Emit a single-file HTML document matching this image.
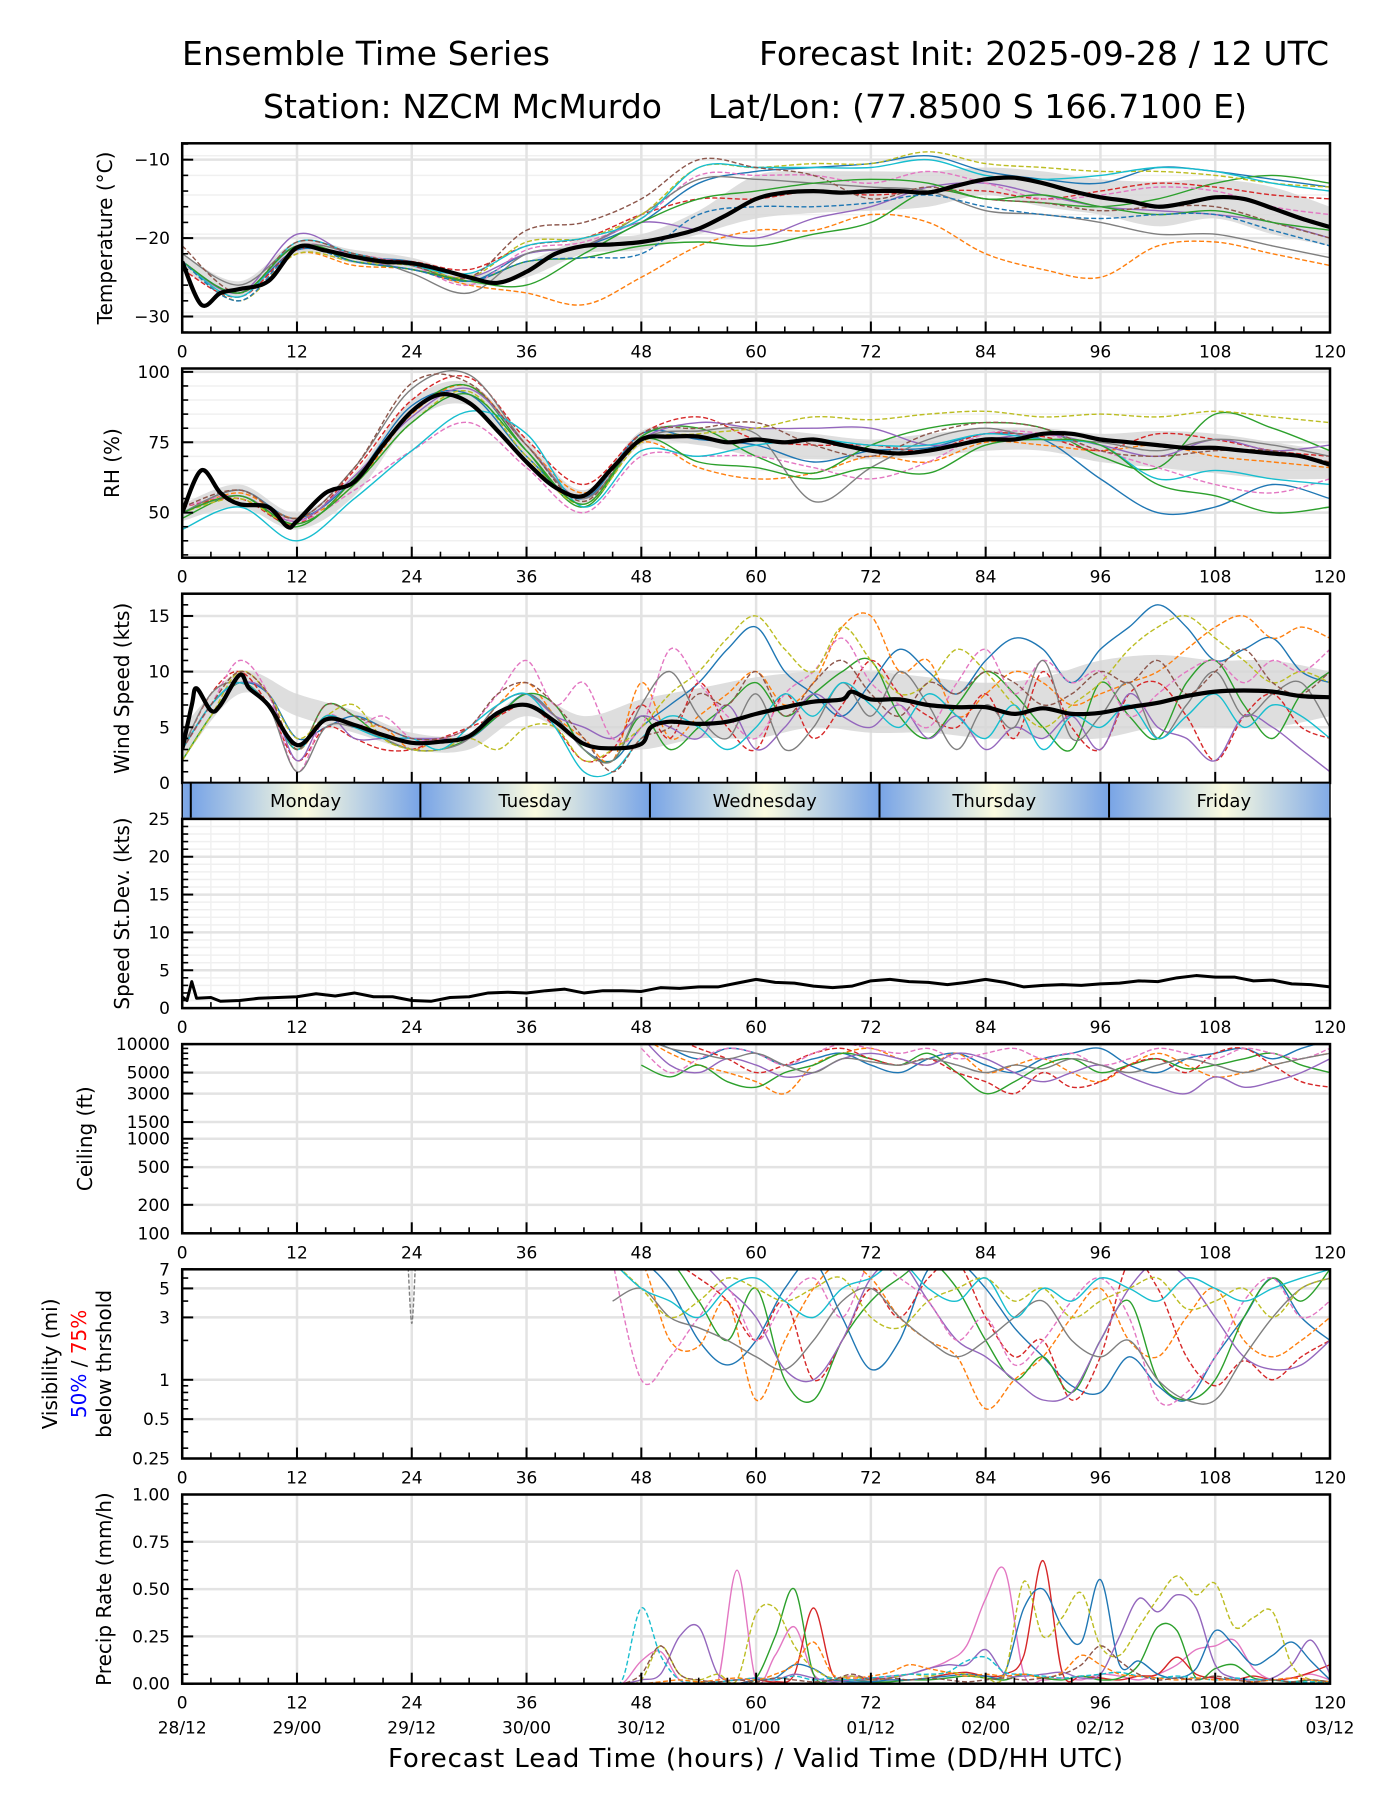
<!DOCTYPE html>
<html><head><meta charset="utf-8"><style>
html,body{margin:0;padding:0;background:#fff}
svg{display:block;font-family:"DejaVu Sans","Liberation Sans",sans-serif}
</style></head><body>
<svg id="fig" width="1400" height="1800" viewBox="0 0 1400 1800" xmlns="http://www.w3.org/2000/svg">
<text x="182" y="65" font-size="33" textLength="368">Ensemble Time Series</text>
<text x="759" y="65" font-size="33" textLength="570">Forecast Init: 2025-09-28 / 12 UTC</text>
<text x="263" y="118" font-size="33" textLength="399">Station: NZCM McMurdo</text>
<text x="708" y="118" font-size="33" textLength="539">Lat/Lon: (77.8500 S 166.7100 E)</text>
<text x="388" y="1767" font-size="26" textLength="735">Forecast Lead Time (hours) / Valid Time (DD/HH UTC)</text>
</svg>
<script>
// ---------- data ----------
const H6=[0,6,12,18,24,30,36,42,48,54,60,66,72,78,84,90,96,102,108,114,120];
const tempMeanH=[0,2,4,6,9,12,15,18,21,24,27,30,33,36,39,42,45,48,51,54,57,60,63,66,69,72,75,78,81,84,87,90,93,96,99,102,105,108,111,114,117,120];
const tempMean=[-23,-28.5,-27,-26.5,-25.5,-21.2,-21.6,-22.4,-23,-23.2,-24,-25,-25.7,-24.3,-22,-21,-20.8,-20.5,-19.8,-18.8,-17,-15,-14.2,-14,-14.2,-14,-14,-14.2,-13.3,-12.5,-12.3,-13,-14,-14.8,-15.3,-16,-15.5,-14.8,-15,-16.2,-17.5,-18.6];
const tempHi=[-22,-25.5,-20.5,-21.5,-22.5,-24.5,-23,-20,-19.5,-16.5,-12,-11.5,-11.5,-11.5,-11,-11.5,-12.5,-12.8,-12.5,-13.5,-16];
const tempLo=[-24,-27.5,-22,-23.2,-24,-26,-25,-22,-21.5,-19.5,-17.5,-16.8,-16.5,-16,-14.5,-16,-17,-18.5,-17.5,-19.5,-21];
const tempMembers=[
[-23,-27,-21.5,-22.5,-23,-25.5,-22,-21,-18,-13,-11.5,-11,-10.5,-9.5,-11.5,-12.5,-13,-11,-11.5,-12.5,-13.5],
[-23,-28,-22,-23.5,-24,-26,-27,-28.5,-25,-21,-19,-19,-17,-18,-22,-24,-25,-21,-20.5,-22,-23.5],
[-23,-27,-21,-22.5,-23.5,-25.5,-23,-22.5,-21,-20.5,-21,-19.5,-18,-14,-15,-15.5,-16,-15,-13,-12,-13],
[-24,-27.5,-21.5,-22.5,-23,-24,-21,-20,-17,-15,-15,-14,-14.5,-14,-14,-15,-14,-13,-13.5,-14.5,-15],
[-23,-27,-19.5,-22.5,-24,-25,-22,-21,-18,-19,-20,-17.5,-16,-13.5,-13,-14.5,-16,-16.5,-17,-18,-20],
[-23,-27,-21,-22,-23.5,-26,-21.5,-20.5,-17.5,-12,-12,-12,-13,-11.5,-13,-15,-14.5,-13.5,-14,-16,-17],
[-22,-26,-21,-22,-24.5,-27,-22,-21,-17,-12.5,-12.5,-13,-13.5,-14,-16.5,-17,-18,-19.5,-19.5,-21,-22.5],
[-23,-28,-22,-23,-23.5,-25,-20.5,-20,-17,-11,-11,-10.5,-10.5,-9,-10.5,-11,-11.5,-11.5,-12,-13,-13.5],
[-23,-27.5,-20.5,-22,-23.5,-24.5,-21,-20,-17.5,-11,-11,-11,-11,-10,-12,-12.5,-12,-11,-11.5,-13,-14],
[-21,-27,-20.5,-22,-23.5,-25,-19,-18,-15,-10,-11,-12,-15,-13.5,-15,-15.5,-16.5,-16,-16,-18,-20],
[-23,-27,-21,-23,-24,-25.5,-26,-22,-18,-15,-14,-13,-12.5,-13,-15,-14.5,-16,-17,-16.5,-18,-19],
[-23,-28,-21.5,-23,-24,-25.5,-23,-22.5,-22,-17,-16,-16,-15.5,-14.5,-16,-17,-17.5,-17,-17,-19,-21]];
const rhMeanH=[0,2,4,6,9,11,12,15,18,21,24,27,30,33,36,39,42,45,48,51,54,57,60,63,66,69,72,75,78,81,84,87,90,93,96,99,102,105,108,111,114,117,120];
const rhMean=[50,65,57,53,52,45,47,57,61,74,86,92,89,79,68,59,56,66,76,77,77,75,76,75,76,74,72,71,72,74,76,76,78,78,76,75,74,73,73,72,71,70,67];
const rhHi=[53,60,50,64,90,96,76,58,79,80,80,78,76,78,80,80,78,79,78,75,72];
const rhLo=[47,52,44,56,82,88,68,53,74,74,70,69,69,70,72,72,68,66,64,62,62];
const rhMembers=[
[50,58,48,62,88,92,70,55,78,76,74,68,72,73,78,76,62,50,52,60,55],
[50,57,48,60,85,95,74,57,75,66,62,64,70,68,75,74,72,74,70,68,66],
[48,56,45,62,86,95,72,52,77,80,70,64,74,80,82,80,70,66,85,80,72],
[52,55,46,65,90,98,76,60,78,84,76,74,74,72,78,77,72,78,76,72,70],
[50,56,47,63,84,94,74,55,76,82,80,80,80,74,76,78,74,70,76,72,74],
[52,56,47,58,72,82,66,50,70,70,70,66,62,68,78,78,72,66,60,57,62],
[50,58,48,66,94,99,74,55,76,79,78,54,66,76,80,76,75,72,76,74,70],
[50,55,46,60,82,93,70,53,75,78,80,84,83,85,86,84,85,84,86,84,82],
[44,52,40,55,72,86,78,52,72,70,74,76,74,74,78,76,74,62,65,62,60],
[52,58,48,66,96,96,74,54,78,80,82,74,70,78,82,80,72,70,72,72,68],
[50,56,46,60,82,92,72,53,76,68,66,62,66,64,74,76,74,60,56,50,52]];
const windMeanH=[0,1,1.5,3,4,6,7,9,12,15,18,21,24,27,30,33,36,39,42,45,48,49,51,54,57,60,63,66,69,70,72,75,78,81,84,87,90,93,96,99,102,105,108,111,114,117,120];
const windMean=[3,7,8.5,6.5,7,9.7,8.5,7,3.4,5.7,5.2,4.3,3.6,3.7,4.2,6.3,7,5.5,3.5,3.1,3.5,5,5.5,5.3,5.5,6.2,6.8,7.3,7.5,8.2,7.5,7.5,7,6.8,6.8,6.2,6.7,6.2,6.3,6.8,7.2,7.8,8.2,8.3,8.2,7.8,7.7];
const windHi=[5,10,8,6.5,4.5,4.5,8,6,7.5,8.5,9.5,10,10,9.5,9,9.5,11,11.5,11,11,10];
const windLo=[2,8,6,4.5,3,3,6,3.5,3,4,4,5,4.5,4.5,4,4,4,5,5,5,6];
const H3=[0,3,6,9,12,15,18,21,24,27,30,33,36,39,42,45,48,51,54,57,60,63,66,69,72,75,78,81,84,87,90,93,96,99,102,105,108,111,114,117,120];
const windMembers=[
[3,7,9,8,4,5,6,5,4,4,4,6,8,6,3,2,5,7,9,12,14,10,8,6,9,12,10,8,11,13,12,9,12,14,16,14,11,12,13,10,9],
[3,7,10,8,3,6,5,5,3,4,4,7,9,6,4,2,9,4,6,8,10,7,9,14,15,10,11,6,8,10,9,7,8,9,10,12,14,15,13,14,13],
[2,6,9,7,3,7,6,4,3,3,4,6,8,7,3,2,6,3,5,7,9,6,8,10,11,6,4,7,10,8,5,3,9,6,4,9,11,7,4,8,10],
[3,8,10,7,2,5,4,3,3,4,5,6,7,5,2,3,7,4,9,5,3,8,4,7,11,8,6,5,8,4,10,5,3,8,9,6,2,6,8,5,4],
[3,7,9,8,2,6,4,4,4,4,4,7,8,6,5,4,6,5,4,7,3,5,8,6,5,7,4,6,3,5,4,6,3,8,5,4,2,6,5,3,1],
[3,7,11,8,1,6,5,6,4,4,5,8,11,7,9,4,5,12,9,6,4,8,10,13,9,7,5,9,12,8,11,9,10,6,8,10,11,9,11,10,12],
[3,8,9,7,1,5,5,4,3,3,4,7,8,6,3,2,7,10,6,4,8,3,5,9,6,10,7,3,7,5,11,4,6,9,4,7,10,6,8,9,5],
[2,6,10,8,4,6,7,4,3,3,4,3,5,5,2,3,5,8,10,13,15,12,10,14,11,8,9,12,10,7,5,7,9,12,14,15,13,11,9,10,9],
[3,7,9,7,3,6,5,4,4,3,5,7,8,5,1,1,4,6,5,3,5,8,6,9,7,5,8,6,4,7,3,6,5,7,4,6,8,5,7,6,4],
[3,7,10,8,3,7,6,5,4,4,5,8,9,7,4,1,4,5,8,7,10,6,9,11,8,6,9,8,10,9,7,8,10,9,11,8,10,12,9,8,10]];
const sdH=[0,0.5,1,1.5,3,4,6,8,10,12,14,16,18,20,22,24,26,28,30,32,34,36,38,40,42,44,46,48,50,52,54,56,58,60,62,64,66,68,70,72,74,76,78,80,82,84,86,88,90,92,94,96,98,100,102,104,106,108,110,112,114,116,118,120];
const sdVals=[1.5,1,3.5,1.3,1.4,0.9,1,1.3,1.4,1.5,1.9,1.6,2,1.5,1.5,1,0.9,1.4,1.5,2,2.1,2,2.3,2.5,2,2.3,2.3,2.2,2.7,2.6,2.8,2.8,3.3,3.8,3.4,3.3,2.9,2.7,2.9,3.6,3.8,3.5,3.4,3.1,3.4,3.8,3.4,2.8,3,3.1,3,3.2,3.3,3.6,3.5,4,4.3,4.1,4.1,3.6,3.7,3.2,3.1,2.8];
const ceilH=[48,51,54,57,60,63,66,69,72,75,78,81,84,87,90,93,96,99,102,105,108,111,114,117,120];
const ceilMembers=[
[12000,9000,7000,9000,8000,6000,7000,8000,6000,5000,7000,8000,6000,5000,7000,8000,9000,6000,5000,7000,8000,9000,7000,9000,11000],
[12000,8000,6000,5000,4000,3000,6000,8000,9000,7000,6000,8000,5000,6000,7000,5000,4000,6000,8000,6000,4500,5000,6000,7000,8000],
[6000,4500,6000,4000,3500,5000,6000,8000,7000,6000,8000,5000,3000,4000,6000,7000,5000,6000,7000,5500,6000,7000,8000,6000,5000],
[12000,12000,9000,7000,5000,6000,8000,9000,7000,6000,7000,5000,4000,3000,5000,3500,4000,6000,7000,5000,8000,9000,6000,4000,3500],
[12000,6000,5000,7000,6000,4500,5000,7000,8000,7000,6000,8000,7000,5000,4000,5000,6000,4500,3500,3000,4500,3500,4000,5000,7000],
[9000,5000,7000,9000,8000,6000,8000,10000,9000,8000,9000,7000,8000,9000,7000,8000,6000,7000,9000,8000,7000,9000,8000,7000,9000],
[12000,9000,8000,7000,8000,6000,5000,7000,6500,6000,7000,6000,5000,6000,5500,7000,6000,5000,6000,7000,6000,5000,6000,7000,8000]];
const visH=[45,48,51,54,57,60,63,66,69,72,75,78,81,84,87,90,93,96,99,102,105,108,111,114,117,120];
const visMembers=[
[8,8,5,2,1.3,2,5,8,3,1.2,2,7,8,5,2.5,1.5,0.9,0.8,1.5,0.9,0.7,1.5,3,6,3,2],
[8,8,2,1.8,4,0.7,2,5,8,6,3,2,1.5,0.6,1,1.5,3,5,2,1.5,3,5,2,1.5,2,3],
[8,8,8,4,2,5,1,0.7,2,4,6,8,5,2,1,1.5,0.8,2,4,1,0.7,1,3,6,4,7],
[8,8,8,6,4,2,4,1,2,5,3,6,8,3,1.5,2,0.7,1.5,8,5,1.5,0.9,1.4,1,1.5,2],
[8,8,8,8,5,3,1.2,1,2,6,8,4,2,1.5,1,0.7,0.8,2,5,8,6,3,1.5,1.2,1.3,2],
[8,1,1.5,3,5,2,4,6,3,8,6,4,2,3,1.3,2,4,6,3,0.7,0.8,1.5,4,6,3,4],
[4,5,3,2.5,2,1.5,1.2,2,4,5,3,2,1.5,2,3,4,2,1.5,2,1,0.7,0.7,1.5,3,5,6],
[8,5,3,4,6,5,4,5,6,3,2.5,4,5,6,4,5,3,4,5,6,3.5,4,5,3,5,6],
[8,5,4,3,5,6,4,3,5,6,8,5,4,6,3,5,4,6,5,4,6,5,4,5,6,7]];
const visSpikeH=[23.6,24,24.4];
const visSpike=[8,2.7,8];
const precH=[44,46,48,50,52,54,56,58,60,62,64,66,68,70,72,74,76,78,80,82,84,86,88,90,92,94,96,98,100,102,104,106,108,110,112,114,116,118,120];
const precMembers=[
[0,0,0.12,0.17,0.02,0,0.01,0.6,0.02,0.15,0.3,0.05,0.02,0.04,0.03,0.04,0.05,0.08,0.12,0.2,0.45,0.6,0.05,0.02,0.03,0.02,0.05,0.04,0.02,0.05,0.1,0.18,0.2,0.23,0.08,0.02,0.03,0.05,0.02],
[0,0,0,0,0,0,0,0,0.02,0.01,0.05,0.4,0.05,0.02,0.03,0.02,0.02,0.03,0.05,0.06,0.04,0.05,0.15,0.65,0.06,0.04,0.03,0.02,0.04,0.05,0.14,0.05,0.03,0.02,0.04,0.02,0.03,0.06,0.1],
[0,0,0,0,0,0,0,0,0.03,0.25,0.5,0.05,0.02,0.02,0.01,0.01,0.02,0.02,0.03,0.04,0.03,0.02,0.05,0.03,0.02,0.04,0.02,0.03,0.1,0.3,0.28,0.03,0.08,0.1,0.03,0.02,0.01,0.02,0.01],
[0,0,0,0,0,0,0,0,0.02,0.03,0.1,0.08,0.02,0.01,0.01,0.02,0.02,0.03,0.04,0.05,0.04,0.06,0.4,0.5,0.3,0.22,0.55,0.1,0.12,0.05,0.03,0.08,0.28,0.2,0.1,0.15,0.22,0.12,0.02],
[0,0,0.02,0.05,0.25,0.3,0.05,0.02,0.03,0.02,0.05,0.03,0.01,0.02,0.02,0.03,0.05,0.08,0.1,0.1,0.18,0.05,0.04,0.05,0.06,0.03,0.05,0.25,0.45,0.38,0.47,0.4,0.1,0.03,0.02,0.03,0.1,0.23,0.05],
[0,0,0.02,0.2,0.05,0.02,0.05,0.02,0.37,0.4,0.2,0.08,0.03,0.04,0.02,0.03,0.05,0.04,0.06,0.05,0.03,0.05,0.54,0.25,0.35,0.48,0.2,0.15,0.3,0.45,0.57,0.47,0.53,0.3,0.35,0.38,0.1,0.02,0.01],
[0,0.02,0.4,0.15,0.02,0.01,0.01,0.02,0.03,0.02,0.04,0.02,0.03,0.02,0.03,0.04,0.05,0.05,0.06,0.12,0.14,0.06,0.05,0.04,0.03,0.04,0.05,0.06,0.04,0.03,0.04,0.03,0.02,0.03,0.02,0.02,0.01,0.01,0.01],
[0,0,0,0.01,0.02,0.01,0.02,0.03,0.02,0.05,0.1,0.22,0.05,0.03,0.04,0.06,0.1,0.08,0.06,0.04,0.05,0.04,0.05,0.03,0.06,0.15,0.1,0.05,0.04,0.03,0.02,0.03,0.02,0.02,0.01,0.02,0.03,0.02,0.01],
[0,0,0.05,0.2,0.05,0.02,0.01,0.02,0.01,0.03,0.02,0.01,0.02,0.05,0.02,0.03,0.02,0.03,0.02,0.01,0.02,0.03,0.02,0.03,0.05,0.1,0.2,0.12,0.05,0.02,0.03,0.02,0.04,0.02,0.01,0.02,0.01,0.02,0.01]];
const xTicks=[0,12,24,36,48,60,72,84,96,108,120];
const dateLabels=["28/12","29/00","29/12","30/00","30/12","01/00","01/12","02/00","02/12","03/00","03/12"];
const dayNames=["Monday","Tuesday","Wednesday","Thursday","Friday"];
const dayStarts=[0.9,24.9,48.9,72.9,96.9];

// ---------- drawing ----------
const NS="http://www.w3.org/2000/svg";
const svg=document.getElementById('fig');
const X0=182.2,X1=1330,PH=189.2;
const tops=[143.3,368.5,593.7,818.9,1044.1,1269.3,1494.5];
const xs=h=>X0+h*(X1-X0)/120;
const C=['#1f77b4','#ff7f0e','#2ca02c','#d62728','#9467bd','#8c564b','#e377c2','#7f7f7f','#bcbd22','#17becf'];
function mk(tag,attrs,parent){const e=document.createElementNS(NS,tag);for(const k in attrs)e.setAttribute(k,attrs[k]);(parent||svg).appendChild(e);return e;}
function lin(d0,d1,top){return v=>top+PH-(v-d0)/(d1-d0)*PH;}
function lg(d0,d1,top){const a=Math.log10(d0),b=Math.log10(d1);return v=>top+PH-(Math.log10(v)-a)/(b-a)*PH;}
function smooth(pts){let d='M'+pts[0][0].toFixed(1)+','+pts[0][1].toFixed(1);
 for(let i=0;i<pts.length-1;i++){const p0=pts[i-1]||pts[i],p1=pts[i],p2=pts[i+1],p3=pts[i+2]||p2;
  const c1=[p1[0]+(p2[0]-p0[0])/6,p1[1]+(p2[1]-p0[1])/6],c2=[p2[0]-(p3[0]-p1[0])/6,p2[1]-(p3[1]-p1[1])/6];
  d+=' C'+c1[0].toFixed(1)+','+c1[1].toFixed(1)+' '+c2[0].toFixed(1)+','+c2[1].toFixed(1)+' '+p2[0].toFixed(1)+','+p2[1].toFixed(1);}
 return d;}
function pts(hs,vs,y){const n=Math.min(hs.length,vs.length),r=[];for(let i=0;i<n;i++)r.push([xs(hs[i]),y(vs[i])]);return r;}
let clipN=0;
function panelGroup(top){const id='clip'+(clipN++);const cp=mk('clipPath',{id:id});mk('rect',{x:X0,y:top,width:X1-X0,height:PH},cp);return mk('g',{'clip-path':'url(#'+id+')'});}

function axes(idx,y,yt,ylabels,minors,opts){
 const top=tops[idx],bot=top+PH;
 const grid=mk('g',{});
 
 
 (opts.minorGrid||[]).forEach(v=>mk('line',{x1:X0,x2:X1,y1:y(v),y2:y(v),stroke:'#f0f0f0','stroke-width':1.5},grid));
 if(opts.minorGridX)for(let h=3;h<120;h+=3)if(h%12)mk('line',{x1:xs(h),x2:xs(h),y1:top,y2:bot,stroke:'#f0f0f0','stroke-width':1.5},grid);
 yt.forEach(v=>mk('line',{x1:X0,x2:X1,y1:y(v),y2:y(v),stroke:'#e3e3e3','stroke-width':2.5},grid));
 xTicks.forEach(h=>mk('line',{x1:xs(h),x2:xs(h),y1:top,y2:bot,stroke:'#e3e3e3','stroke-width':2.5},grid));
}
function frame(idx,y,yt,ylabels,minors,opts){
 const top=tops[idx],bot=top+PH;
 const g=mk('g',{});
 
 
 for(let h=0;h<=120;h+=3){const maj=h%12===0;mk('line',{x1:xs(h),x2:xs(h),y1:bot,y2:bot-(maj?11:6),stroke:'#000','stroke-width':maj?2:1.6},g);}
 minors.forEach(v=>mk('line',{x1:X0,x2:X0+6,y1:y(v),y2:y(v),stroke:'#000','stroke-width':1.6},g));
 yt.forEach((v,i)=>{mk('line',{x1:X0,x2:X0+11,y1:y(v),y2:y(v),stroke:'#000','stroke-width':2},g);
  const t=mk('text',{x:170,y:y(v)+6,'font-size':17,'text-anchor':'end'},g);t.textContent=ylabels[i];
  
  });
 mk('rect',{x:X0,y:top,width:X1-X0,height:PH,fill:'none',stroke:'#000','stroke-width':2.5},g);
 if(opts.xlabels){xTicks.forEach(h=>{const t=mk('text',{x:xs(h),y:bot+25,'font-size':17,'text-anchor':'middle'},g);t.textContent=h;
  
  });}
 if(opts.label){const t=mk('text',{x:opts.lx,y:top+PH/2,'font-size':20,'text-anchor':'middle','dominant-baseline':'central',transform:'rotate(-90 '+opts.lx+' '+(top+PH/2)+')'},g);t.textContent=opts.label;
  
  }
 return g;}
function band(g,hs,lo,hi,y){const a=pts(hs,hi,y),b=pts(hs,lo,y).reverse();
 const sb=smooth(b);
 const d=smooth(a)+' L'+b[0][0]+','+b[0][1]+sb.slice(sb.indexOf(' C'))+' Z';
 const p=mk('path',{d:d,fill:'#d6d6d6','fill-opacity':0.8,stroke:'none'},g);
 
 }
function meanLine(g,hs,vs,y){const p=mk('path',{d:smooth(pts(hs,vs,y)),fill:'none',stroke:'#000','stroke-width':4.2,'stroke-linejoin':'round'},g);
 
 }
const memColorOrder=[0,1,2,3,4,6,7,8,9,5,2,0,3];
function drawMembers(g,hs,arr,y,nm){arr.forEach((m,k)=>{const ci=memColorOrder[k%memColorOrder.length];
 const p=mk('path',{d:smooth(pts(hs,m,y)),fill:'none',stroke:C[ci],'stroke-width':1.4,'stroke-dasharray':(k%2)?'5,2.5':'none'},g);
 
 });}
function range(a,b,s){const r=[];for(let v=a;v<=b+1e-9;v+=s)r.push(+v.toFixed(4));return r;}

// Temperature
{const y=lin(-32.04,-7.91,tops[0]);const yt=[-10,-20,-30];
 axes(0,y,yt,[],[],{name:'temperature',minorGrid:range(-32,-8,2.5)});
 const g=panelGroup(tops[0]);band(g,H6,tempLo,tempHi,y);drawMembers(g,H6,tempMembers,y,'temperature-member');meanLine(g,tempMeanH,tempMean,y);
 frame(0,y,yt,['\u221210','\u221220','\u221230'],range(-32,-8,2),{name:'temperature',xlabels:true,label:'Temperature (\u00b0C)',lx:105});}
// RH
{const y=lin(34,101.2,tops[1]);const yt=[100,75,50];
 axes(1,y,yt,[],[],{name:'rh',minorGrid:range(35,100,5)});
 const g=panelGroup(tops[1]);band(g,H6,rhLo,rhHi,y);drawMembers(g,H6,rhMembers,y,'rh-member');meanLine(g,rhMeanH,rhMean,y);
 frame(1,y,yt,['100','75','50'],range(35,100,5),{name:'rh',xlabels:true,label:'RH (%)',lx:112});}
// Wind
{const y=lin(0,17,tops[2]);const yt=[15,10,5,0];
 axes(2,y,yt,[],[],{name:'wind'});
 const g=panelGroup(tops[2]);band(g,H6,windLo,windHi,y);drawMembers(g,H3,windMembers,y,'wind-member');meanLine(g,windMeanH,windMean,y);
 frame(2,y,yt,['15','10','5','0'],range(0,17,1),{name:'wind',xlabels:false,label:'Wind Speed (kts)',lx:122});}
// Day bar
{const top=tops[2]+PH,h=tops[3]-top;const g=mk('g',{});
 
 
 const defs=mk('defs',{},g);const gr=mk('linearGradient',{id:'dayGrad',x1:0,x2:1,y1:0,y2:0},defs);
 [['0','#78a4e6'],['0.25','#b9d0e4'],['0.5','#fbfbdf'],['0.75','#b9d0e4'],['1','#78a4e6']].forEach(s=>mk('stop',{offset:s[0],'stop-color':s[1]},gr));
 const cp=mk('clipPath',{id:'dayClip'},defs);mk('rect',{x:X0,y:top,width:X1-X0,height:h},cp);
 const gg=mk('g',{'clip-path':'url(#dayClip)'},g);
 [-23.1].concat(dayStarts).forEach(s=>mk('rect',{x:xs(s),y:top,width:xs(24)-xs(0),height:h,fill:'url(#dayGrad)'},gg));
 dayStarts.forEach((s,i)=>{mk('line',{x1:xs(s),x2:xs(s),y1:top,y2:top+h,stroke:'#000','stroke-width':2},g);
  const t=mk('text',{x:xs(s+12),y:top+h/2+6,'font-size':18,'text-anchor':'middle'},g);t.textContent=dayNames[i];
  
  });
 mk('rect',{x:X0,y:top,width:X1-X0,height:h,fill:'none',stroke:'#000','stroke-width':1.5},g);}
// StDev
{const y=lin(0,25,tops[3]);const yt=[25,20,15,10,5,0];
 axes(3,y,yt,[],[],{name:'stdev',minorGrid:range(0,25,1),minorGridX:true});
 const g=panelGroup(tops[3]);const p=mk('polyline',{points:pts(sdH,sdVals,y).map(q=>q.join(',')).join(' '),fill:'none',stroke:'#000','stroke-width':3,'stroke-linejoin':'round'},g);
 
 
 frame(3,y,yt,['25','20','15','10','5','0'],range(0,25,1),{name:'stdev',xlabels:true,label:'Speed St.Dev. (kts)',lx:122});}
// Ceiling
{const y=lg(100,10000,tops[4]);const yt=[10000,5000,3000,1500,1000,500,200,100];
 axes(4,y,yt,[],[],{name:'ceiling'});
 const g=panelGroup(tops[4]);drawMembers(g,ceilH,ceilMembers,y,'ceiling-member');
 const mn=[];[100,1000].forEach(b=>{for(let k=2;k<10;k++)mn.push(b*k);});
 frame(4,y,yt,yt.map(String),mn,{name:'ceiling',xlabels:true,label:'Ceiling (ft)',lx:85});}
// Visibility
{const y=lg(0.25,7,tops[5]);const yt=[7,5,3,1,0.5,0.25];
 axes(5,y,yt,[],[],{name:'visibility'});
 const g=panelGroup(tops[5]);drawMembers(g,visH,visMembers,y,'visibility-member');
 const sp=mk('path',{d:smooth(pts(visSpikeH,visSpike,y)),fill:'none',stroke:C[7],'stroke-width':1.4,'stroke-dasharray':'4,2'},g);
 
 
 frame(5,y,yt,['7','5','3','1','0.5','0.25'],[0.3,0.4,0.6,0.7,0.8,0.9,2,4,6],{name:'visibility',xlabels:true});
 const cy=tops[5]+PH/2;
 const l1=mk('text',{x:50,y:cy,'font-size':20,'text-anchor':'middle','dominant-baseline':'central',transform:'rotate(-90 50 '+cy+')'});l1.textContent='Visibility (mi)';
 
 
 const l2=mk('text',{x:79,y:cy,'font-size':20,'text-anchor':'middle','dominant-baseline':'central',transform:'rotate(-90 79 '+cy+')'});
 
 
 const a=mk('tspan',{fill:'#0000ff'},l2);a.textContent='50%';const b=mk('tspan',{},l2);b.textContent=' / ';const c=mk('tspan',{fill:'#ff0000'},l2);c.textContent='75%';
 const l3=mk('text',{x:104,y:cy,'font-size':20,'text-anchor':'middle','dominant-baseline':'central',transform:'rotate(-90 104 '+cy+')'});l3.textContent='below thrshold';
 
 }
// Precip
{const y=lin(0,1,tops[6]);const yt=[1,0.75,0.5,0.25,0];
 axes(6,y,yt,[],[],{name:'precip'});
 const g=panelGroup(tops[6]);const order=[6,3,2,0,4,8,9,1,5];
 precMembers.forEach((m,k)=>{const p=mk('path',{d:smooth(pts(precH,m,y)),fill:'none',stroke:C[order[k]],'stroke-width':1.4,'stroke-dasharray':[5,8,9,1,5].includes(order[k])?'5,2.5':'none'},g);
  
  });
 frame(6,y,yt,['1.00','0.75','0.50','0.25','0.00'],range(0,1,0.05),{name:'precip',xlabels:true,label:'Precip Rate (mm/h)',lx:104});
 const bot=tops[6]+PH;
 dateLabels.forEach((s,i)=>{const t=mk('text',{x:xs(xTicks[i]),y:bot+50,'font-size':17,'text-anchor':'middle'});t.textContent=s;
  
  });}
</script>
</body></html>
